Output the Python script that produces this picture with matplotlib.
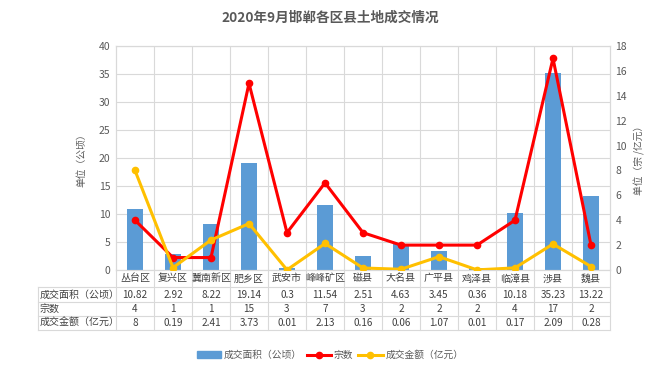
import matplotlib
matplotlib.use("Agg")
import matplotlib.pyplot as plt
from matplotlib import transforms
from matplotlib.lines import Line2D
from matplotlib.patches import Patch

plt.rcParams['font.family'] = ['Noto Sans CJK SC', 'DejaVu Sans']

categories = ["丛台区", "复兴区", "冀南新区", "肥乡区", "武安市", "峰峰矿区", "磁县",
              "大名县", "广平县", "鸡泽县", "临漳县", "涉县", "魏县"]
area = [10.82, 2.92, 8.22, 19.14, 0.3, 11.54, 2.51, 4.63, 3.45, 0.36, 10.18, 35.23, 13.22]
count = [4, 1, 1, 15, 3, 7, 3, 2, 2, 2, 4, 17, 2]
amount = [8, 0.19, 2.41, 3.73, 0.01, 2.13, 0.16, 0.06, 1.07, 0.01, 0.17, 2.09, 0.28]
area_labels = ["10.82", "2.92", "8.22", "19.14", "0.3", "11.54", "2.51", "4.63", "3.45", "0.36", "10.18", "35.23", "13.22"]
amount_labels = ["8", "0.19", "2.41", "3.73", "0.01", "2.13", "0.16", "0.06", "1.07", "0.01", "0.17", "2.09", "0.28"]
row_names = ["成交面积（公顷）", "宗数", "成交金额（亿元）"]

W, H = 660, 373
fig = plt.figure(figsize=(W/100, H/100), dpi=100)
fig.patch.set_facecolor('white')

def fx(p): return p / W
def fy(p): return 1 - p / H

L, R, T, B = 116, 610, 46, 270
ax = fig.add_axes([fx(L), fy(B), fx(R) - fx(L), fy(T) - fy(B)])
ax2 = ax.twinx()

grid_c = '#D9D9D9'
text_c = '#595959'
n = len(categories)
x = list(range(n))

ax.bar(x, area, width=0.4, color='#5B9BD5', zorder=2)
ax.set_xlim(-0.5, n - 0.5)
ax.set_ylim(0, 40)
ax.set_yticks(range(0, 41, 5))
ax.set_xticks([])
ax.grid(axis='y', color=grid_c, linewidth=0.8, zorder=0)
ax.set_axisbelow(True)
for b in [i + 0.5 for i in range(n - 1)]:
    ax.axvline(b, color=grid_c, linewidth=0.8, zorder=0)

ax2.plot(x, count, color='#FF0000', linewidth=2.2, marker='o', markersize=4.5, zorder=4)
ax2.plot(x, amount, color='#FFC000', linewidth=2.2, marker='o', markersize=4.5, zorder=5)
ax2.set_ylim(0, 18)
ax2.set_yticks(range(0, 19, 2))

for a in (ax, ax2):
    for s in a.spines.values():
        s.set_color(grid_c)
        s.set_linewidth(0.8)
    a.tick_params(axis='y', length=0, labelsize=7.5, labelcolor=text_c, pad=4)

ax.set_ylabel("单位（公顷）", fontsize=7, color=text_c, labelpad=9)
ax2.set_ylabel("单位（宗 /亿元）", fontsize=7, color=text_c, rotation=90, labelpad=5)

fig.text(0.5, fy(18), "2020年9月邯郸各区县土地成交情况", ha='center', va='center',
         fontsize=9.8, fontweight='bold', color=text_c)

# Data table
tr = transforms.blended_transform_factory(ax.transData, fig.transFigure)
rows_y = [270, 287, 302, 316, 330]
for yy in rows_y[1:]:
    fig.add_artist(Line2D([fx(38), fx(R)], [fy(yy), fy(yy)], color=grid_c, linewidth=0.8))
fig.add_artist(Line2D([fx(38), fx(38)], [fy(287), fy(330)], color=grid_c, linewidth=0.8))
for xb in [fx(L), fx(R)]:
    fig.add_artist(Line2D([xb, xb], [fy(270), fy(330)], color=grid_c, linewidth=0.8))
for i in range(n - 1):
    ln = Line2D([i + 0.5, i + 0.5], [fy(270), fy(330)], color=grid_c, linewidth=0.8, transform=tr)
    fig.add_artist(ln)

fs = 7.2
for i in range(n):
    fig.text(i, fy(278.5), categories[i], transform=tr, ha='center', va='center', fontsize=fs, color='#404040')
    fig.text(i, fy(294.5), area_labels[i], transform=tr, ha='center', va='center', fontsize=fs, color='#404040')
    fig.text(i, fy(309), str(count[i]), transform=tr, ha='center', va='center', fontsize=fs, color='#404040')
    fig.text(i, fy(323), amount_labels[i], transform=tr, ha='center', va='center', fontsize=fs, color='#404040')
for j, yy in enumerate([294.5, 309, 323]):
    fig.text(fx(40), fy(yy), row_names[j], ha='left', va='center', fontsize=fs, color='#404040')

handles = [Patch(color='#5B9BD5'),
           Line2D([], [], color='#FF0000', linewidth=2.2, marker='o', markersize=4.5),
           Line2D([], [], color='#FFC000', linewidth=2.2, marker='o', markersize=4.5)]
fig.legend(handles, row_names, loc='center', bbox_to_anchor=(0.5, fy(355)), ncol=3,
           frameon=False, fontsize=7, handlelength=2.5, handletextpad=0.3, columnspacing=0.5,
           labelcolor=text_c)

fig.savefig("out.png", dpi=100, facecolor='white')
